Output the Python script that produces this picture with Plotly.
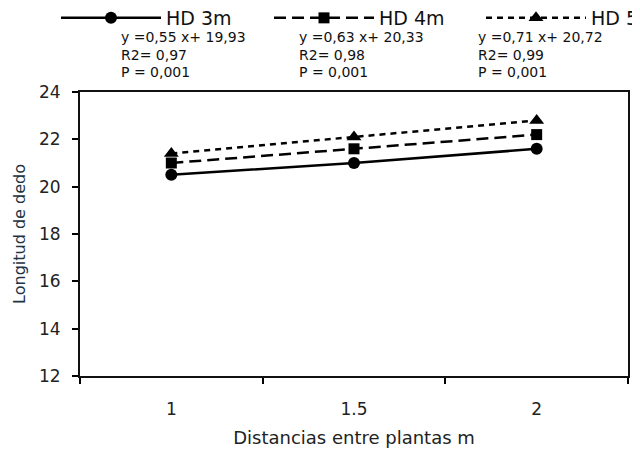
import plotly.graph_objects as go

categories = ["1", "1.5", "2"]
hd3 = [20.5, 21.0, 21.6]
hd4 = [21.0, 21.6, 22.2]
hd5 = [21.4, 22.1, 22.8]
series_names = ["HD 3m", "HD 4m", "HD 5"]
eq_lines = ["y =0,55 x+ 19,93", "y =0,63 x+ 20,33", "y =0,71 x+ 20,72"]
r2_lines = ["R2= 0,97", "R2= 0,98", "R2= 0,99"]
p_lines = ["P = 0,001", "P = 0,001", "P = 0,001"]
y_ticks = [12, 14, 16, 18, 20, 22, 24]

FONT = "DejaVu Sans, Verdana, sans-serif"

W, H = 640, 451
OFF = 8  # page body margin
L, R, T, B = 72, 20, 84, 83
pw = W - L - R
ph = H - T - B

def px_x(x):
    return (x - OFF - L) / pw

def px_y(y):
    return 1 - (y - OFF - T) / ph

fig = go.Figure()
styles = [
    dict(dash="solid", symbol="circle", size=12),
    dict(dash="12px,6px", symbol="square", size=11),
    dict(dash="6px,5px", symbol="triangle-up", size=13),
]
legend_ids = ["legend", "legend2", "legend3"]
for name, vals, st, lg in zip(series_names, [hd3, hd4, hd5], styles, legend_ids):
    fig.add_trace(go.Scatter(
        x=categories, y=vals, name=name, mode="lines+markers", legend=lg,
        line=dict(color="black", width=2.5, dash=st["dash"]),
        marker=dict(color="black", symbol=st["symbol"], size=st["size"]),
    ))

eq_x = [119, 297, 476]
eq_y = [37, 55, 72]
for i in range(3):
    for j, txt in enumerate([eq_lines[i], r2_lines[i], p_lines[i]]):
        fig.add_annotation(
            x=px_x(eq_x[i]), y=px_y(eq_y[j]), xref="paper", yref="paper",
            text=txt, showarrow=False, xanchor="left", yanchor="middle",
            font=dict(family=FONT, size=14, color="#111"),
        )

leg_x = [56, 269, 481]
legs = {}
for lg, lx in zip(legend_ids, leg_x):
    legs[lg] = dict(
        x=px_x(lx), y=px_y(18), xanchor="left", yanchor="middle",
        itemwidth=100, orientation="h",
        font=dict(family=FONT, size=19, color="#111"),
        bgcolor="rgba(0,0,0,0)",
    )

fig.update_layout(
    width=W, height=H,
    margin=dict(l=L, r=R, t=T, b=B, autoexpand=False),
    paper_bgcolor="white", plot_bgcolor="white",
    font=dict(family=FONT, color="#111"),
    showlegend=True,
    **legs,
    xaxis=dict(
        type="category", range=[-0.5, 2.5], tickson="boundaries",
        ticks="outside", ticklen=6, tickcolor="black", tickwidth=1.5,
        showline=True, linecolor="#111", linewidth=2, mirror=True,
        showgrid=False, zeroline=False, automargin=False,
        ticklabelstandoff=17,
        tickfont=dict(family=FONT, size=17, color="#222"),
        title=dict(text="Distancias entre plantas m", standoff=13,
                   font=dict(family=FONT, size=18, color="#222")),
    ),
    yaxis=dict(
        range=[12, 24], tickvals=y_ticks,
        ticks="outside", ticklen=6, tickcolor="black", tickwidth=1.5,
        showline=True, linecolor="#111", linewidth=2, mirror=True,
        showgrid=False, zeroline=False, automargin=False,
        ticklabelstandoff=8,
        tickfont=dict(family=FONT, size=17, color="#222"),
        title=dict(text="Longitud de dedo", standoff=9,
                   font=dict(family=FONT, size=16, color="#234")),
    ),
)

fig.write_html("out.html")
